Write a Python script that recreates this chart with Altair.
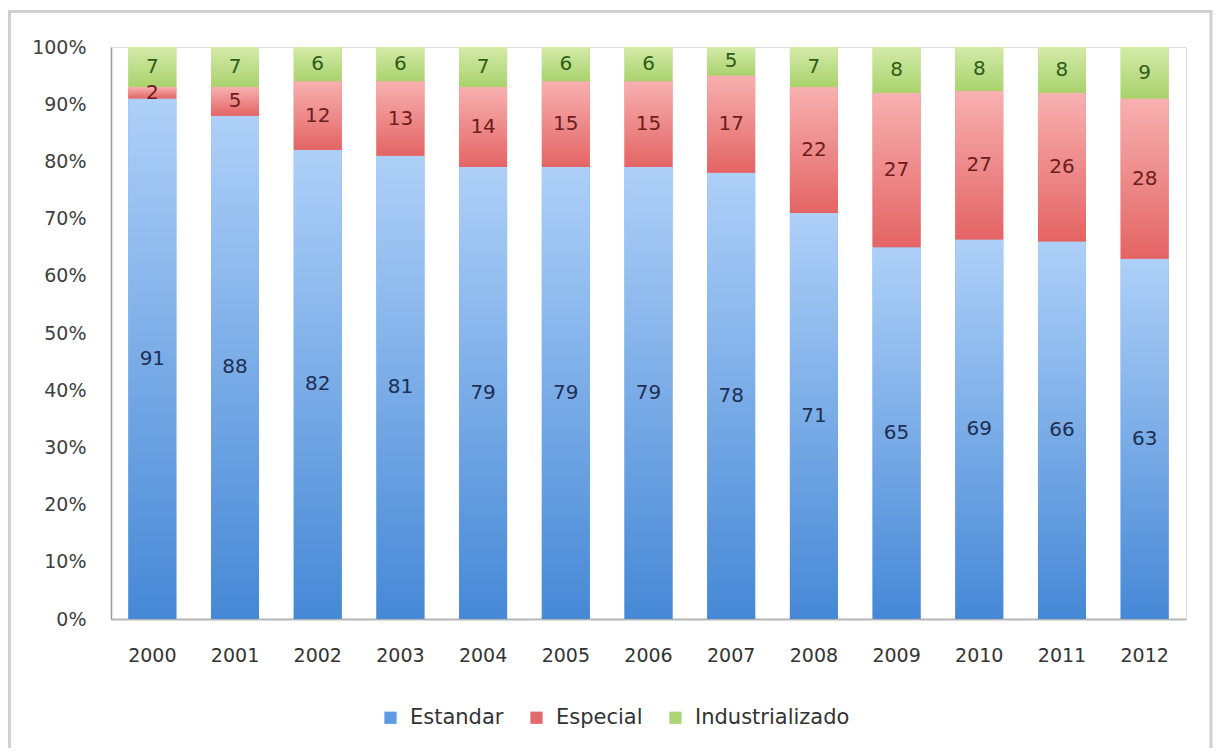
import altair as alt
import pandas as pd

years = ["2000", "2001", "2002", "2003", "2004", "2005", "2006",
         "2007", "2008", "2009", "2010", "2011", "2012"]
series = ["Estandar", "Especial", "Industrializado"]
estandar = [91, 88, 82, 81, 79, 79, 79, 78, 71, 65, 69, 66, 63]
especial = [2, 5, 12, 13, 14, 15, 15, 17, 22, 27, 27, 26, 28]
industrializado = [7, 7, 6, 6, 7, 6, 6, 5, 7, 8, 8, 8, 9]

rows = []
for i, y in enumerate(years):
    for k, (s, vals) in enumerate(zip(series, [estandar, especial, industrializado])):
        rows.append({"year": y, "series": s, "value": vals[i], "order": k})
df = pd.DataFrame(rows)

FONT = "DejaVu Sans"
solid_colors = ["#5b9be3", "#e26a6a", "#acd475"]
text_colors = ["#1d2f52", "#6e1c1c", "#2f5c17"]
gradients = {
    "Estandar": ("#aed0f8", "#4688d6"),
    "Especial": ("#f8b0b0", "#e46464"),
    "Industrializado": ("#d4eba9", "#a9d26c"),
}

base = alt.Chart(df).transform_stack(
    stack="value",
    groupby=["year"],
    as_=["y0", "y1"],
    offset="normalize",
    sort=[alt.SortField("order", order="ascending")],
).transform_calculate(mid="(datum.y0 + datum.y1) / 2")

x_enc = alt.X(
    "year:N",
    sort=years,
    scale=alt.Scale(paddingInner=0.42, paddingOuter=0.21),
    axis=alt.Axis(
        title=None, labelAngle=0, ticks=False, domainColor="#b5b5b5",
        domainWidth=2, labelFont=FONT, labelFontSize=19, labelColor="#333333",
        labelPadding=27,
    ),
)
y_enc = alt.Y(
    "y0:Q",
    scale=alt.Scale(domain=[0, 1], nice=False, zero=True),
    axis=alt.Axis(
        title=None, format=".0%", values=[i / 10 for i in range(11)],
        grid=False, ticks=False, domainColor="#9a9a9a", domainWidth=1.5,
        labelFont=FONT, labelFontSize=19, labelColor="#404040", labelPadding=25,
    ),
)

legend_layer = base.mark_bar().encode(
    x=x_enc,
    y=y_enc,
    y2="y1:Q",
    color=alt.Color(
        "series:N",
        scale=alt.Scale(domain=series, range=solid_colors),
        legend=alt.Legend(
            title=None, orient="none", legendX=269, legendY=660,
            direction="horizontal", symbolType="square", symbolSize=150,
            symbolStrokeWidth=0, labelFont=FONT, labelFontSize=21,
            labelColor="#333333", labelOffset=9, columnPadding=22, padding=0,
        ),
    ),
)

grad_layers = []
for s in series:
    c0, c1 = gradients[s]
    grad_layers.append(
        base.transform_filter(alt.datum.series == s).mark_bar(
            color=alt.Gradient(
                gradient="linear",
                stops=[alt.GradientStop(color=c0, offset=0),
                       alt.GradientStop(color=c1, offset=1)],
                x1=0, x2=0, y1=0, y2=1,
            )
        ).encode(x=alt.X("year:N", sort=years), y="y0:Q", y2="y1:Q")
    )

labels = base.mark_text(font=FONT, fontSize=20, baseline="middle").encode(
    x=alt.X("year:N", sort=years),
    y="mid:Q",
    text="value:Q",
    color=alt.Color("series:N", scale=alt.Scale(domain=series, range=text_colors), legend=None),
)

frame = alt.Chart(alt.Data(values=[{"a": 1}])).mark_rect(
    filled=False, stroke="#d0d0d0", strokeWidth=3
).encode(
    x=alt.value(-101.5), x2=alt.value(1100), y=alt.value(-35.5), y2=alt.value(800)
)

chart = alt.layer(legend_layer, *grad_layers, labels, frame).resolve_scale(
    color="independent"
).properties(
    width=1075, height=572,
    autosize=alt.AutoSizeParams(type="none"),
    padding={"left": 103, "top": 39, "right": 27, "bottom": 129},
).configure_view(stroke=None).configure(background="white")

chart.save("out.html", embed_options={"renderer": "svg", "actions": False})
